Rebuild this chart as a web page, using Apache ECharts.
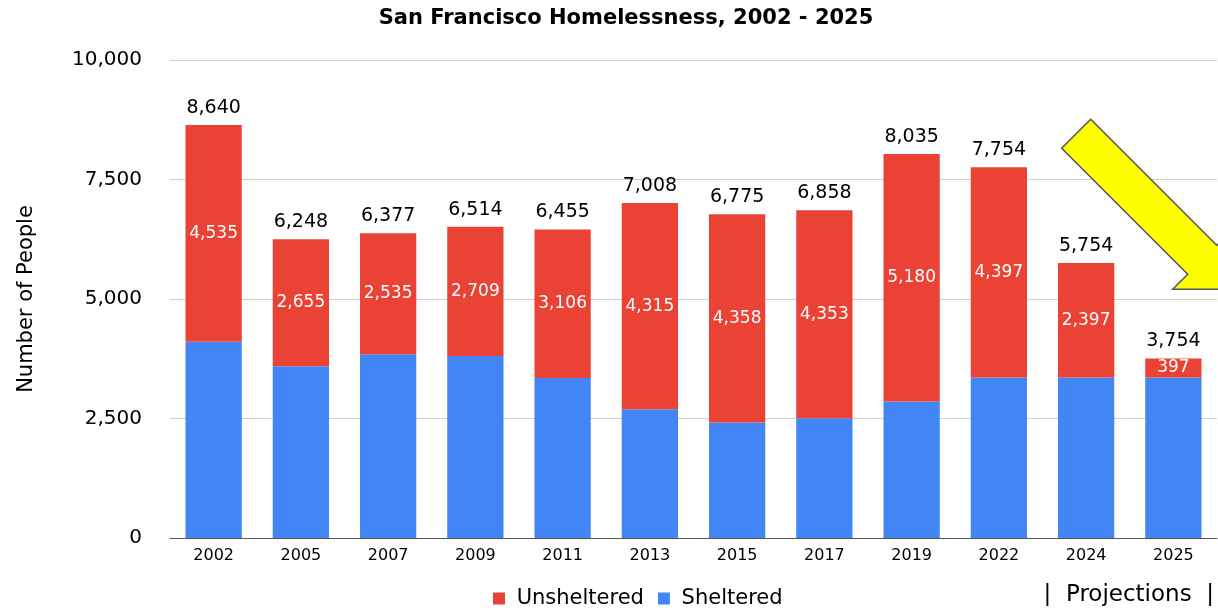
<!DOCTYPE html>
<html>
<head>
<meta charset="utf-8">
<script src="https://cdn.jsdelivr.net/npm/echarts@6/dist/echarts.min.js"></script>
<style>
html,body{margin:0;padding:0;background:#fff;}
#chart{width:1218px;height:610px;}
</style>
</head>
<body>
<div id="chart"></div>
<script>
const years = ['2002','2005','2007','2009','2011','2013','2015','2017','2019','2022','2024','2025'];
const sheltered = [4105,3593,3842,3805,3349,2693,2417,2505,2855,3357,3357,3357];
const unsheltered = [4535,2655,2535,2709,3106,4315,4358,4353,5180,4397,2397,397];
const totals = [8640,6248,6377,6514,6455,7008,6775,6858,8035,7754,5754,3754];
const yTicks = [0,2500,5000,7500,10000];

const fmt = v => Number(v).toLocaleString('en-US');
const FONT = 'DejaVu Sans, Verdana, sans-serif';

const chart = echarts.init(document.getElementById('chart'));
chart.setOption({
  animation: false,
  backgroundColor: '#ffffff',
  title: {
    text: 'San Francisco Homelessness, 2002 - 2025',
    left: 621, textAlign: 'center', top: 3,
    textStyle: {fontFamily: FONT, fontWeight: 'bold', fontSize: 21, color: '#000'}
  },
  legend: {
    data: ['Unsheltered','Sheltered'],
    left: 488, top: 583,
    icon: 'rect', itemWidth: 12, itemHeight: 12, itemGap: 14,
    formatter: n => ' ' + n,
    textStyle: {fontFamily: FONT, fontSize: 21, color: '#000'}
  },
  grid: {left: 170, right: 1, top: 60, bottom: 72},
  xAxis: {
    type: 'category', data: years,
    axisLine: {lineStyle: {color: '#555'}},
    axisTick: {show: false},
    axisLabel: {fontFamily: FONT, fontSize: 16, color: '#000', margin: 10}
  },
  yAxis: {
    type: 'value', min: yTicks[0], max: yTicks[yTicks.length-1], interval: 2500,
    name: 'Number of People', nameLocation: 'middle', nameGap: 133,
    nameTextStyle: {fontFamily: FONT, fontSize: 21, color: '#000'},
    axisLine: {show: false}, axisTick: {show: false},
    axisLabel: {fontFamily: FONT, fontSize: 20, color: '#000', margin: 28, formatter: fmt},
    splitLine: {lineStyle: {color: '#d0d0d0'}}
  },
  series: [
    {
      name: 'Sheltered', type: 'bar', stack: 'total', data: sheltered,
      barWidth: '64.5%', itemStyle: {color: '#4285F4'}
    },
    {
      name: 'Unsheltered', type: 'bar', stack: 'total', data: unsheltered,
      barWidth: '64.5%', itemStyle: {color: '#EA4335'},
      label: {show: true, position: 'inside', color: '#fff', fontFamily: FONT, fontSize: 17, formatter: p => fmt(p.value)}
    },
    {
      name: 'Total', type: 'line', data: totals,
      symbol: 'circle', symbolSize: 1, itemStyle: {color: 'rgba(0,0,0,0)'},
      lineStyle: {width: 0, opacity: 0}, silent: true,
      label: {show: true, position: 'top', distance: 7, color: '#000', fontFamily: FONT, fontSize: 19, formatter: p => fmt(p.value)}
    }
  ],
  graphic: [
    {
      type: 'polygon', z: 10,
      shape: {points: [[1090.7,119.3],[1216.7,245.3],[1231.7,230.3],[1231.7,289.3],[1172.7,289.3],[1187.7,274.3],[1061.7,148.3]]},
      style: {fill: '#FFFF00', stroke: '#555', lineWidth: 1.5}
    },
    {
      type: 'text', right: 4, top: 584, z: 10,
      style: {text: '|  Projections  |', fontFamily: FONT, fontSize: 23, fill: '#000'}
    }
  ]
});
</script>
</body>
</html>
